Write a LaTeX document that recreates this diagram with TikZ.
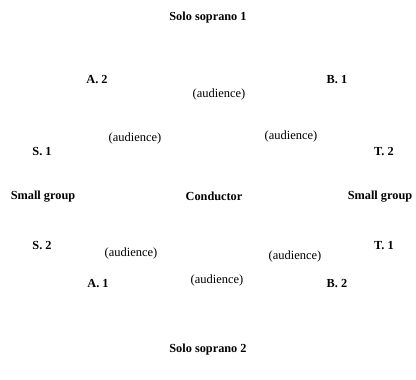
\documentclass[tikz,border=0pt]{standalone}
\usepackage{fontspec}
\setmainfont{Liberation Serif}
\begin{document}
\begin{tikzpicture}[x=1pt,y=-1pt,
  part/.style={font=\fontsize{12.3}{14}\selectfont\bfseries, inner sep=0pt},
  aud/.style={font=\fontsize{12.5}{14}\selectfont, inner sep=0pt}]
\useasboundingbox (0,0) rectangle (416,380);
\node[part] (solo1) at (208,18) {Solo soprano 1};
\node[part] (a2) at (97,80) {A. 2};
\node[part] (b1) at (337,80) {B. 1};
\node[aud] (aud1) at (219,94) {(audience)};
\node[aud] (aud2) at (135,138) {(audience)};
\node[aud] (aud3) at (291,136) {(audience)};
\node[part] (s1) at (42,152) {S. 1};
\node[part] (t2) at (384,152) {T. 2};
\node[part] (sgl) at (43,197) {Small group};
\node[part] (cond) at (214,196) {Conductor};
\node[part] (sgr) at (380,197) {Small group};
\node[part] (s2) at (42,246) {S. 2};
\node[aud] (aud4) at (131,253) {(audience)};
\node[aud] (aud5) at (295,256) {(audience)};
\node[part] (t1) at (384,246) {T. 1};
\node[part] (a1) at (98,284) {A. 1};
\node[aud] (aud6) at (217,280) {(audience)};
\node[part] (b2) at (337,284) {B. 2};
\node[part] (solo2) at (208,350) {Solo soprano 2};
\end{tikzpicture}
\end{document}
